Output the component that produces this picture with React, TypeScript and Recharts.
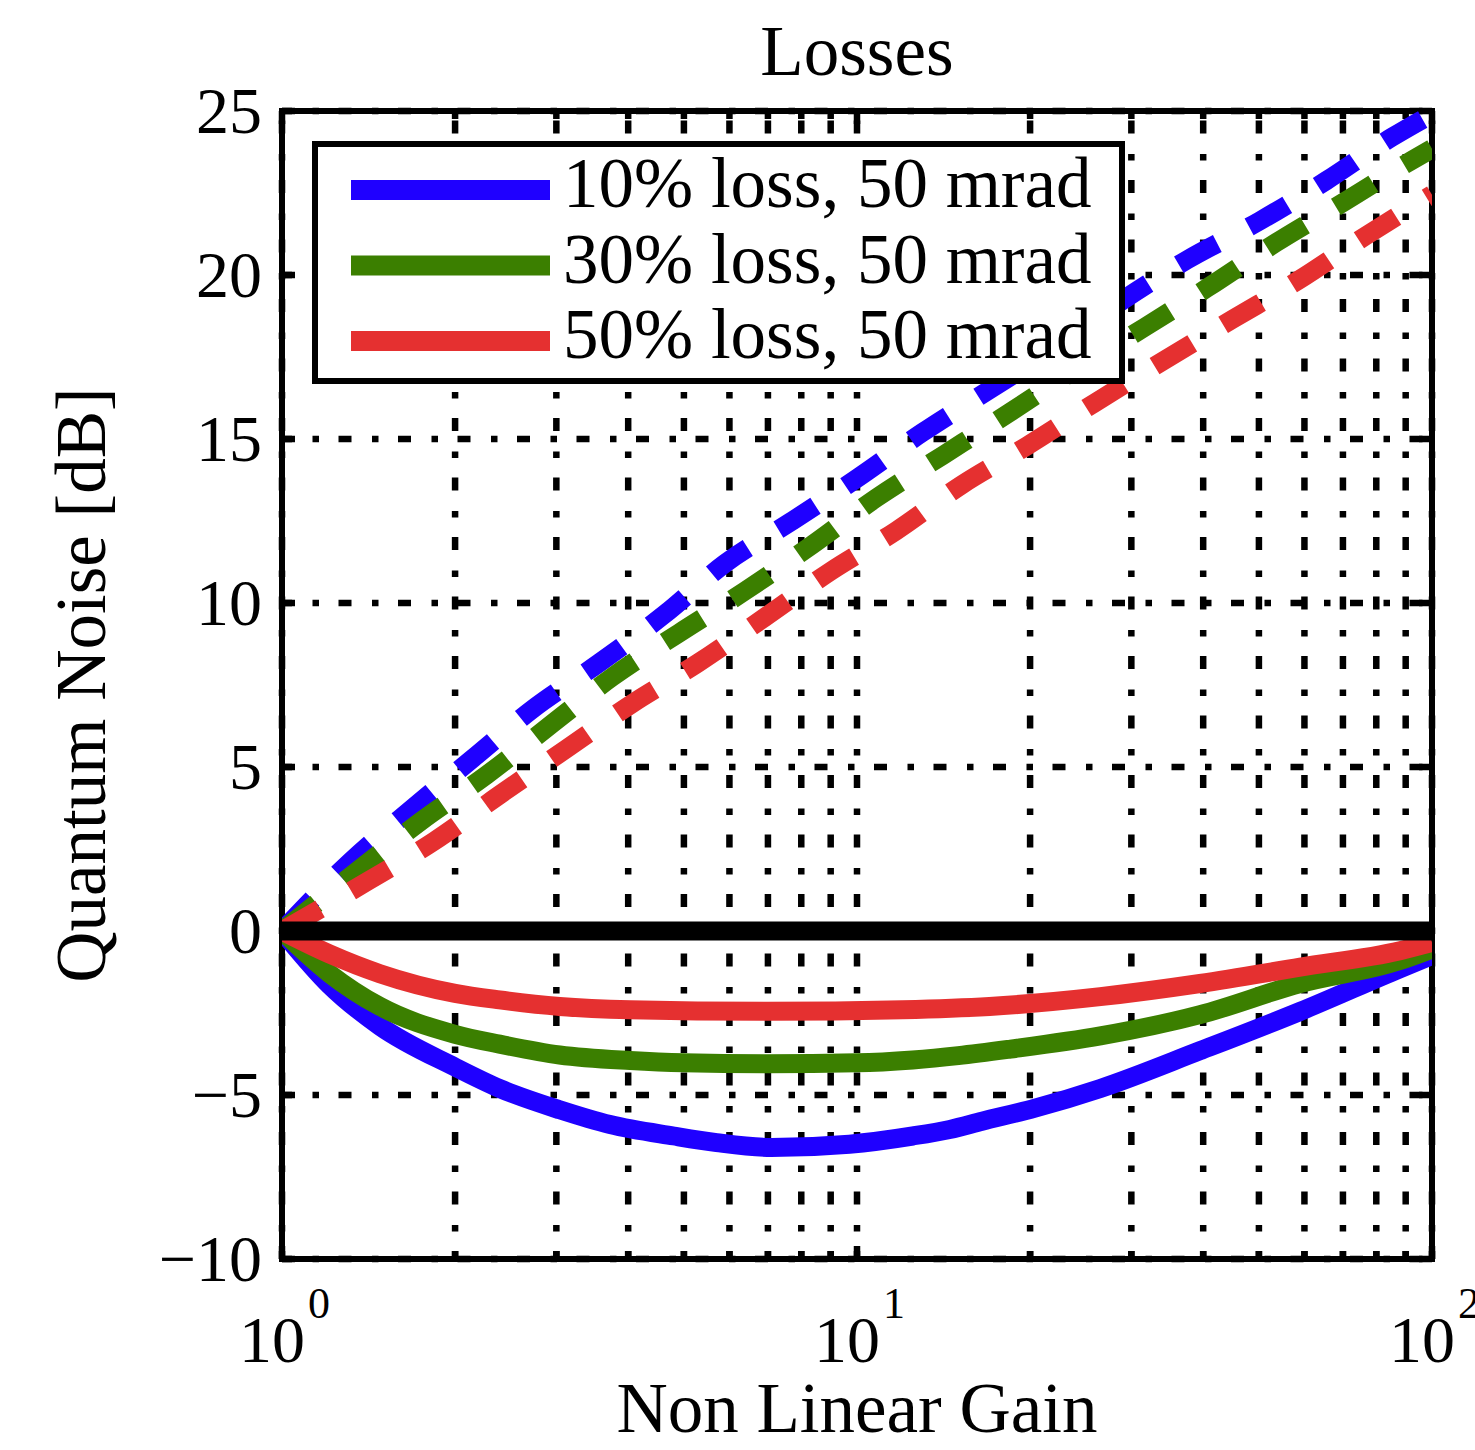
import React from "react";
import {
  LineChart,
  Line,
  XAxis,
  YAxis,
  CartesianGrid,
  ReferenceLine,
  ReferenceArea,
  Legend,
} from "recharts";

// positive branch (dashed) and negative branch (solid) of each loss case
const gainBlueUp = [1, 1.318, 1.696, 2.15, 2.73, 3.56, 4.63, 5.89, 7.71, 10, 13, 17, 22.2, 28.8, 37.5, 50.2, 65.4, 85.2, 100];
const noiseBlueUp = [0, 2.13, 3.78, 5.27, 6.77, 8.17, 9.66, 11.2, 12.5, 13.8, 15.2, 16.5, 17.8, 19.2, 20.46, 21.65, 22.87, 24.2, 24.9];

const gainGreenUp = [1, 1.372, 1.745, 2.27, 2.96, 3.75, 4.9, 6.39, 8.35, 10.8, 14.1, 18.4, 23.9, 31.6, 40.6, 53.5, 70.8, 92.3, 100];
const noiseGreenUp = [0, 1.92, 3.35, 4.76, 6.34, 7.74, 9.08, 10.37, 11.77, 13.2, 14.5, 15.8, 17.1, 18.4, 19.6, 20.98, 22.26, 23.5, 23.85];

const gainRedUp = [1, 1.41, 1.84, 2.39, 3.12, 4.08, 5.29, 6.92, 9.02, 11.7, 15.2, 19.8, 25.9, 34.2, 45.1, 58.7, 76.8, 100];
const noiseRedUp = [0, 1.52, 2.74, 4.15, 5.55, 6.95, 8.17, 9.57, 10.98, 12.2, 13.6, 14.8, 16.1, 17.4, 18.66, 19.85, 21.2, 22.45];

const gainBlueDown = [1, 1.21, 1.48, 2, 2.39, 3.04, 3.72, 4.8, 5.7, 7.1, 9.7, 12.5, 14.5, 16.5, 20.4, 26.5, 39.5, 59, 88, 100];
const noiseBlueDown = [0, -1.65, -2.9, -4.15, -4.8, -5.45, -5.9, -6.25, -6.45, -6.6, -6.5, -6.25, -6.05, -5.8, -5.4, -4.8, -3.65, -2.45, -1.15, -0.75];

const gainGreenDown = [1, 1.21, 1.48, 2, 2.39, 3.04, 4.03, 5, 7, 10, 12.5, 15, 18.5, 26.5, 39.5, 59, 88, 100];
const noiseGreenDown = [0, -1.3, -2.3, -3.15, -3.45, -3.78, -3.95, -4.02, -4.05, -4.02, -3.93, -3.8, -3.6, -3.2, -2.55, -1.6, -0.9, -0.55];

const gainRedDown = [1, 1.21, 1.48, 2, 2.39, 3.04, 4.03, 7, 12, 17, 26.5, 39.5, 59, 88, 100];
const noiseRedDown = [0, -0.7, -1.3, -1.9, -2.1, -2.3, -2.4, -2.45, -2.4, -2.3, -2.0, -1.6, -1.1, -0.6, -0.35];

const seriesNames = ["10% loss, 50 mrad", "30% loss, 50 mrad", "50% loss, 50 mrad"];

const xTicks = [1, 10, 100];
const xGrid = [1, 2, 3, 4, 5, 6, 7, 8, 9, 10, 20, 30, 40, 50, 60, 70, 80, 90, 100];
const yTicks = [-10, -5, 0, 5, 10, 15, 20, 25];

const BLUE = "#1f00ff";
const GREEN = "#3b7f00";
const RED = "#e53030";
const FONT = "'Liberation Serif', 'Times New Roman', serif";

const zip = (xs: number[], ys: number[]) => xs.map((x, i) => ({ x, y: ys[i] }));

const GRID_DASH = "13 20.5 6.5 19.5";

function HGridLine(props: any) {
  const { x1, x2, y1, index } = props;
  return (
    <g key={`h-${index}`}>
      <line x1={x1} x2={x2} y1={y1} y2={y1} stroke="#000" strokeWidth={6.5} strokeDasharray={GRID_DASH} strokeDashoffset={3} />
      <line x1={x1} x2={x1 + 13} y1={y1} y2={y1} stroke="#000" strokeWidth={6.5} />
      <line x1={x2 - 13} x2={x2} y1={y1} y2={y1} stroke="#000" strokeWidth={6.5} />
    </g>
  );
}

function VGridLine(props: any) {
  const { x1, y1, y2, index } = props;
  const tick = xTicks.includes(xGrid[index]) ? 13 : 8;
  return (
    <g key={`v-${index}`}>
      <line x1={x1} x2={x1} y1={y1} y2={y2} stroke="#000" strokeWidth={6.5} strokeDasharray={GRID_DASH} strokeDashoffset={50} />
      <line x1={x1} x2={x1} y1={y1} y2={y1 + tick} stroke="#000" strokeWidth={6.5} />
      <line x1={x1} x2={x1} y1={y2 - tick} y2={y2} stroke="#000" strokeWidth={6.5} />
    </g>
  );
}

function XTick({ x, y, payload }: any) {
  const exp = Math.round(Math.log10(payload.value));
  return (
    <g fontFamily={FONT} fill="#000">
      <text x={x + 23} y={y + 103} textAnchor="end" fontSize={66}>10</text>
      <text x={x + 26} y={y + 59} fontSize={44}>{exp}</text>
    </g>
  );
}

function YTick({ x, y, payload }: any) {
  const v = payload.value as number;
  return (
    <text x={x} y={y + 22} textAnchor="end" fontSize={66} fontFamily={FONT} fill="#000">
      {v < 0 ? `\u2212${Math.abs(v)}` : v}
    </text>
  );
}

function LossLegend({ payload }: any) {
  const rows = (payload || []).filter((p: any) => p.type !== "none");
  return (
    <div style={{ width: 813, height: 243, boxSizing: "border-box", border: "6px solid #000", background: "#fff" }}>
      <svg width={801} height={231} style={{ display: "block", overflow: "visible" }}>
        {rows.map((p: any, i: number) => {
          const cy = 43 + i * 75.5;
          return (
            <g key={p.value}>
              <line x1={33} x2={232} y1={cy} y2={cy} stroke={p.color} strokeWidth={20} />
              <text x={245} y={cy + 17} fontSize={71} fontFamily={FONT} fill="#000">{p.value}</text>
            </g>
          );
        })}
      </svg>
    </div>
  );
}

export default function App() {
  return (
    <div style={{ position: "absolute", left: 0, top: 0, width: 1475, height: 1450, background: "#fff" }}>
      <LineChart width={1475} height={1450} margin={{ top: 111, right: 43, bottom: 91, left: 82 }}>
        <CartesianGrid
          horizontal={HGridLine}
          vertical={VGridLine}
          horizontalValues={yTicks}
          verticalValues={xGrid}
        />
        <XAxis
          dataKey="x"
          type="number"
          scale="log"
          domain={[1, 100]}
          ticks={xTicks}
          allowDataOverflow
          height={100}
          axisLine={false}
          tickLine={false}
          tickSize={0}
          tickMargin={0}
          tick={XTick}
        />
        <YAxis
          type="number"
          domain={[-10, 25]}
          ticks={yTicks}
          allowDataOverflow
          width={200}
          axisLine={false}
          tickLine={false}
          tickSize={0}
          tickMargin={20}
          tick={YTick}
        />
        <Legend
          layout="vertical"
          align="center"
          verticalAlign="middle"
          wrapperStyle={{ left: 312, top: 141, width: 813, height: 243 }}
          content={LossLegend}
        />
        <Line data={zip(gainBlueDown, noiseBlueDown)} dataKey="y" name={seriesNames[0]} type="monotone" stroke={BLUE} strokeWidth={19} dot={false} isAnimationActive={false} />
        <Line data={zip(gainBlueUp, noiseBlueUp)} dataKey="y" name="blue-up" legendType="none" type="monotone" stroke={BLUE} strokeWidth={19} strokeDasharray="44 36" dot={false} isAnimationActive={false} />
        <Line data={zip(gainGreenDown, noiseGreenDown)} dataKey="y" name={seriesNames[1]} type="monotone" stroke={GREEN} strokeWidth={19} dot={false} isAnimationActive={false} />
        <Line data={zip(gainGreenUp, noiseGreenUp)} dataKey="y" name="green-up" legendType="none" type="monotone" stroke={GREEN} strokeWidth={19} strokeDasharray="44 36" dot={false} isAnimationActive={false} />
        <Line data={zip(gainRedDown, noiseRedDown)} dataKey="y" name={seriesNames[2]} type="monotone" stroke={RED} strokeWidth={19} dot={false} isAnimationActive={false} />
        <Line data={zip(gainRedUp, noiseRedUp)} dataKey="y" name="red-up" legendType="none" type="monotone" stroke={RED} strokeWidth={19} strokeDasharray="44 36" dot={false} isAnimationActive={false} />
        <ReferenceLine y={0} stroke="#000" strokeWidth={19} />
        <ReferenceArea x1={1} x2={100} y1={-10} y2={25} fill="none" fillOpacity={0} stroke="#000" strokeWidth={6} />
      </LineChart>
      <svg width={1475} height={1450} style={{ position: "absolute", left: 0, top: 0, pointerEvents: "none" }}>
        <g fontFamily={FONT} fontSize={71} fill="#000">
          <text x={857} y={75} textAnchor="middle">Losses</text>
          <text x={857} y={1432} textAnchor="middle">Non Linear Gain</text>
          <text x={-685} y={105} textAnchor="middle" transform="rotate(-90)">Quantum Noise [dB]</text>
        </g>
      </svg>
    </div>
  );
}
